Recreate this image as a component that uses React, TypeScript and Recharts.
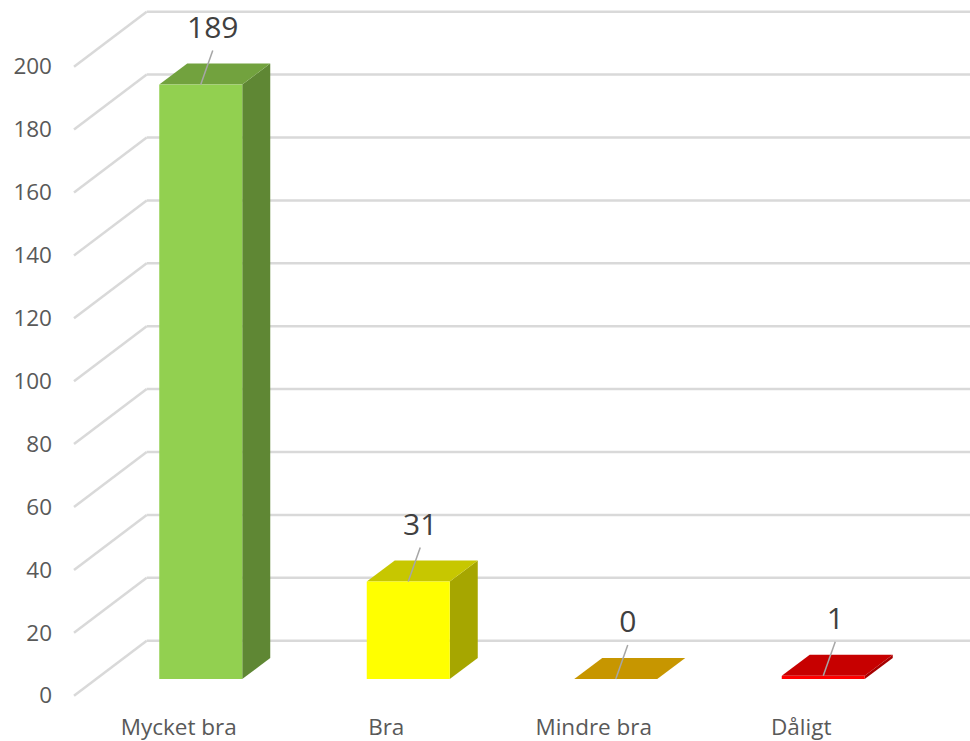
import React from 'react'
import { Bar, BarChart, CartesianGrid, Cell, LabelList, XAxis, YAxis } from 'recharts'

const categories = ['Mycket bra', 'Bra', 'Mindre bra', 'Dåligt']
const counts = [189, 31, 0, 1]
const barColors = ['#92D050', '#FFFF00', '#FFC000', '#FF0000']
const yTicks = [0, 20, 40, 60, 80, 100, 120, 140, 160, 180, 200]

const data = categories.map((name, i) => ({ name, count: counts[i], color: barColors[i] }))

const font = '"Open Sans", "Noto Sans", sans-serif'
// depth of the bar boxes and of the back wall (oblique projection)
const barDx = 28
const barDy = 21
const wallFrontX = 74
const wallBackX = 146.7
const wallFrontOff = 16.7
const wallBackOff = -38.3

function shade(hex: string, k: number) {
  const n = parseInt(hex.slice(1), 16)
  const r = Math.round(((n >> 16) & 255) * k)
  const g = Math.round(((n >> 8) & 255) * k)
  const b = Math.round((n & 255) * k)
  return `rgb(${r},${g},${b})`
}

function Box(props: any) {
  const { x, y, width, height, payload } = props
  const c = payload.color
  const w = width
  const h = Math.max(height, 0)
  return (
    <g>
      <polygon
        points={`${x + w},${y} ${x + w + barDx},${y - barDy} ${x + w + barDx},${y + h - barDy} ${x + w},${y + h}`}
        fill={shade(c, 0.65)}
      />
      <polygon
        points={`${x},${y} ${x + barDx},${y - barDy} ${x + w + barDx},${y - barDy} ${x + w},${y}`}
        fill={shade(c, 0.78)}
      />
      {h > 0 && <rect x={x} y={y} width={w} height={h} fill={c} />}
    </g>
  )
}

function GridLine(props: any) {
  const { y1 } = props
  const yf = y1 + wallFrontOff
  const yb = y1 + wallBackOff
  return (
    <g>
      <line x1={wallFrontX} y1={yf} x2={wallBackX} y2={yb} stroke="#d9d9d9" strokeWidth={2.5} />
      <line x1={wallBackX} y1={yb} x2={970} y2={yb} stroke="#d9d9d9" strokeWidth={2.5} />
    </g>
  )
}

function ValueTick(props: any) {
  const { y, payload } = props
  return (
    <text x={52} y={y + wallFrontOff + 7.7} textAnchor="end" fill="#595959" fontSize={22.5} fontFamily={font}>
      {payload.value}
    </text>
  )
}

function CategoryTick(props: any) {
  const { x, payload } = props
  return (
    <text x={x - 22} y={735} textAnchor="middle" fill="#595959" fontSize={22.5} fontFamily={font}>
      {payload.value}
    </text>
  )
}

function DataLabel(props: any) {
  const { x, y, width, value } = props
  const cx = x + width / 2
  const lx = cx + 12
  const ly = y - 34
  return (
    <g>
      <line x1={lx} y1={ly} x2={cx} y2={y} stroke="#a6a6a6" strokeWidth={1.5} />
      <text x={lx} y={ly - 13} textAnchor="middle" fill="#404040" fontSize={30} fontFamily={font}>
        {value}
      </text>
    </g>
  )
}

export default function App() {
  return (
    <div style={{ position: 'absolute', left: 0, top: 0, background: '#fff' }}>
      <BarChart
        width={970}
        height={741}
        data={data}
        margin={{ top: 50, right: 43, bottom: 0, left: 0 }}
        barCategoryGap="30%"
      >
        <CartesianGrid vertical={false} horizontal={(p: any) => <GridLine key={p.key} {...p} />} />
        <XAxis dataKey="name" height={62} axisLine={false} tickLine={false} interval={0} tick={<CategoryTick />} />
        <YAxis width={97} domain={[0, 200]} ticks={yTicks} axisLine={false} tickLine={false} tick={<ValueTick />} />
        <Bar dataKey="count" shape={<Box />} isAnimationActive={false}>
          {data.map((d) => (
            <Cell key={d.name} fill={d.color} />
          ))}
          <LabelList dataKey="count" content={<DataLabel />} />
        </Bar>
      </BarChart>
    </div>
  )
}
